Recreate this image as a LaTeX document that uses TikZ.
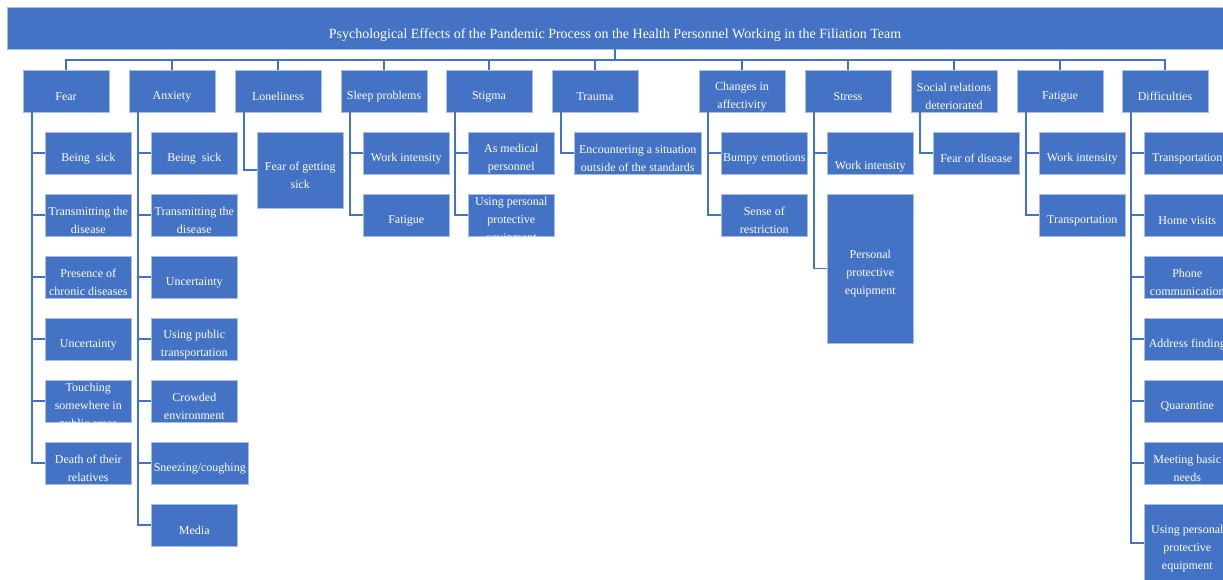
\documentclass[tikz,border=0pt]{standalone}
\usepackage{fontspec}
\setmainfont{Liberation Serif}
\definecolor{boxblue}{HTML}{4472C4}
\definecolor{boxedge}{HTML}{A9BEE6}

\begin{document}
\begin{tikzpicture}[
  x=1pt, y=-1pt,
  box/.style={rectangle, draw=boxedge, line width=0.6pt, fill=boxblue, inner sep=0pt,
    minimum width=86pt, minimum height=42pt},
  boxtext/.style={text=white, align=center, font=\fontsize{12}{18}\selectfont, yshift=-5.5pt},
  txt/.style={label={[boxtext]center:#1}},
  kid/.style={box, anchor=west},
  toptext/.style={text=white, font=\fontsize{14}{16}\selectfont, yshift=-7.5pt},
  bus/.style={draw=boxblue, line width=1.8pt},
  branch/.style={draw=boxblue, line width=1.6pt},
]
  \useasboundingbox (0,0) rectangle (1223,579);
  \clip (0,0) rectangle (1223,579);

  \node[box, minimum width=1216pt, label={[toptext]center:Psychological Effects of the Pandemic Process on the Health Personnel Working in the Filiation Team}] (title) at (615,28) {};

  % first level
  \foreach \n/\x/\t in {fear/66/Fear, anx/172/Anxiety, lone/278/Loneliness, sleep/384/Sleep problems,
      stig/489/Stigma, trau/595/Trauma, chg/742/Changes in\\affectivity, stre/848/Stress,
      soc/954/Social relations\\deteriorated, fat/1060/Fatigue, diff/1165/Difficulties} {
    \node[box, txt=\t] (\n) at (\x,91) {};
    \draw[bus] (title.south) -- ++(0,11) -| (\n.north);
  }

  % fear
  \foreach \t [count=\i] in {Being\ \ sick, Transmitting the\\disease, Presence of\\chronic diseases,
      Uncertainty, Touching\\somewhere in\\public areas, Death of their\\relatives}
    \node[kid, txt=\t] (fear\i) at (45, 91+62*\i) {};
  \foreach \i in {1,...,6}
    \draw[branch] ([xshift=9pt]fear.south west) |- (fear\i.west);

  % anxiety
  \foreach \t [count=\i] in {Being\ \ sick, Transmitting the\\disease, Uncertainty,
      Using public\\transportation, Crowded\\environment}
    \node[kid, txt=\t] (anx\i) at (151, 91+62*\i) {};
  \node[kid, minimum width=97pt, txt=Sneezing/coughing] (anx6) at (151,463) {};
  \node[kid, txt=Media] (anx7) at (151,525) {};
  \foreach \i in {1,...,7}
    \draw[branch] ([xshift=9pt]anx.south west) |- (anx\i.west);

  % loneliness
  \node[kid, minimum height=76pt, txt=Fear of getting\\sick] (lone1) at (257,170) {};
  \draw[branch] ([xshift=9pt]lone.south west) |- (lone1.west);

  % sleep problems
  \foreach \t [count=\i] in {Work intensity, Fatigue}
    \node[kid, txt=\t] (sleep\i) at (363, 91+62*\i) {};
  \foreach \i in {1,2}
    \draw[branch] ([xshift=9pt]sleep.south west) |- (sleep\i.west);

  % stigma
  \foreach \t [count=\i] in {As medical\\personnel, Using personal\\protective\\equipment}
    \node[kid, txt=\t] (stig\i) at (468, 91+62*\i) {};
  \foreach \i in {1,2}
    \draw[branch] ([xshift=9pt]stig.south west) |- (stig\i.west);

  % trauma
  \node[kid, minimum width=127pt, txt=Encountering a situation\\outside of the standards] (trau1) at (574,153) {};
  \draw[branch] ([xshift=9pt]trau.south west) |- (trau1.west);

  % changes in affectivity
  \foreach \t [count=\i] in {Bumpy emotions, Sense of\\restriction}
    \node[kid, txt=\t] (chg\i) at (721, 91+62*\i) {};
  \foreach \i in {1,2}
    \draw[branch] ([xshift=9pt]chg.south west) |- (chg\i.west);

  % stress
  \node[kid, label={[boxtext, yshift=-8.5pt]center:Work intensity}] (stre1) at (827,153) {};
  \node[kid, minimum height=149pt, txt=Personal\\protective\\equipment] (stre2) at (827,268.5) {};
  \foreach \i in {1,2}
    \draw[branch] ([xshift=9pt]stre.south west) |- (stre\i.west);

  % social relations
  \node[kid, txt=Fear of disease] (soc1) at (933,153) {};
  \draw[branch] ([xshift=9pt]soc.south west) |- (soc1.west);

  % fatigue
  \foreach \t [count=\i] in {Work intensity, Transportation}
    \node[kid, txt=\t] (fat\i) at (1039, 91+62*\i) {};
  \foreach \i in {1,2}
    \draw[branch] ([xshift=9pt]fat.south west) |- (fat\i.west);

  % difficulties
  \foreach \t [count=\i] in {Transportation, Home visits, Phone\\communication, Address finding,
      Quarantine, Meeting basic\\needs}
    \node[kid, txt=\t] (diff\i) at (1144, 91+62*\i) {};
  \node[kid, minimum height=78pt, txt=Using personal\\protective\\equipment] (diff7) at (1144,543) {};
  \foreach \i in {1,...,7}
    \draw[branch] ([xshift=9pt]diff.south west) |- (diff\i.west);
\end{tikzpicture}
\end{document}
